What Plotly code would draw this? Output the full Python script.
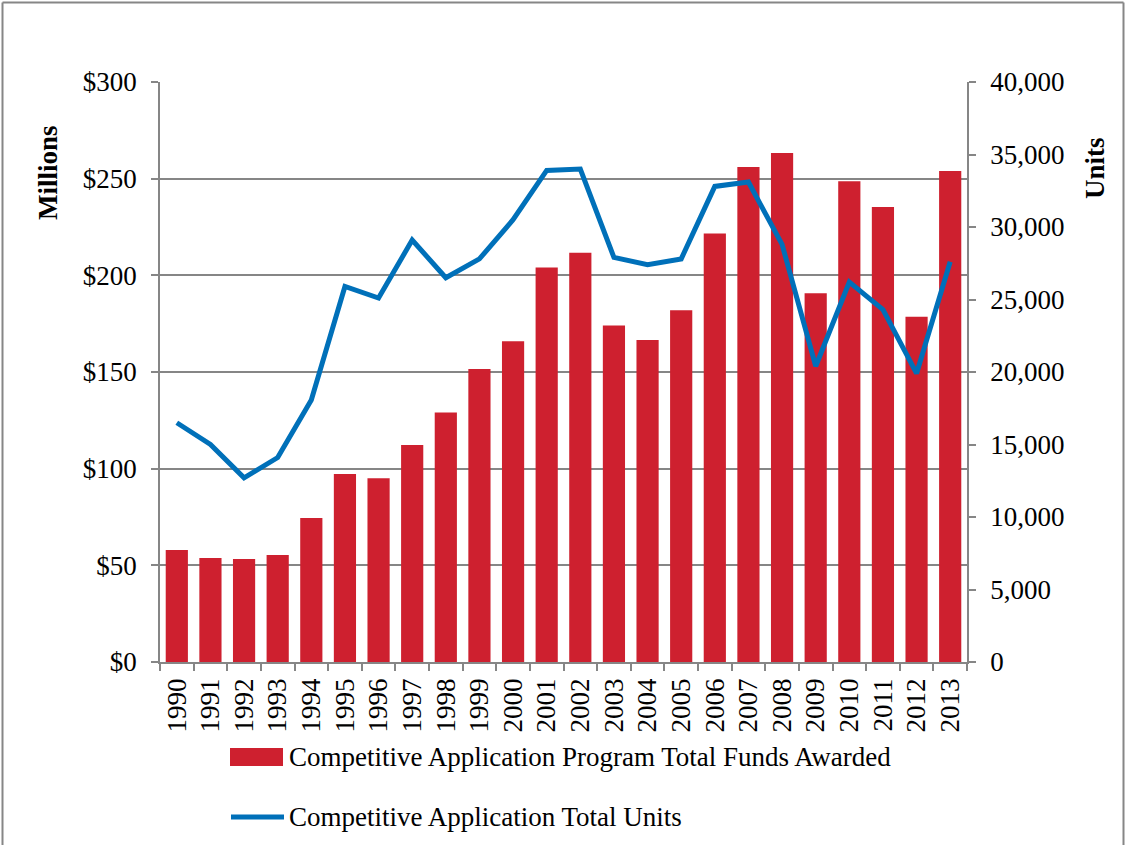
import plotly.graph_objects as go

years = [str(y) for y in range(1990, 2014)]
funds_millions = [57.9, 53.8, 53.3, 55.3, 74.5, 97.2, 95.0, 112.2, 129.1, 151.5,
                  165.9, 204.1, 211.7, 174.1, 166.6, 181.9, 221.7, 256.0, 263.3, 190.7,
                  248.6, 235.3, 178.6, 254.0]
total_units = [16500, 15000, 12700, 14100, 18070, 25900, 25100, 29100, 26500, 27800,
               30500, 33900, 34000, 27900, 27400, 27800, 32800, 33100, 28800, 20400,
               26200, 24300, 19900, 27600]

bar_name = "Competitive Application Program Total Funds Awarded"
line_name = "Competitive Application Total Units"

RED = "#CE202F"
BLUE = "#0070B9"
GRID = "#868686"
FONT = "Liberation Serif"
FS = 27

W, H = 1125, 845
L, R, T, B = 160, 158, 82, 183
PW, PH = W - L - R, H - T - B


def px(x):
    return (x - L) / PW


def py(y):
    return (H - B - y) / PH


fig = go.Figure()
fig.add_trace(go.Bar(x=years, y=funds_millions, name=bar_name, marker_color=RED,
                     marker_line_width=0, yaxis="y"))
fig.add_trace(go.Scatter(x=years, y=total_units, name=line_name, mode="lines",
                         line=dict(color=BLUE, width=5), yaxis="y2"))

fig.update_layout(
    width=W, height=H,
    margin=dict(l=L, r=R, t=T, b=B, autoexpand=False),
    paper_bgcolor="white", plot_bgcolor="white",
    showlegend=False,
    bargap=0.34,
    font=dict(family=FONT, size=FS, color="black"),
    xaxis=dict(type="category", showgrid=False, showline=True, linecolor=GRID, linewidth=1.5,
               ticks="outside", tickson="boundaries", ticklen=7, tickcolor=GRID, tickwidth=1.5,
               tickangle=-90, tickfont=dict(family=FONT, size=FS), ticklabelstandoff=4),
    yaxis=dict(range=[0, 300], dtick=50, tickprefix="$", showgrid=True, gridcolor=GRID,
               gridwidth=1.5, showline=True, linecolor=GRID, linewidth=1.5, ticks="outside",
               ticklen=7, tickcolor=GRID, tickwidth=1.5, zeroline=False,
               tickfont=dict(family=FONT, size=FS), ticklabelstandoff=9),
    yaxis2=dict(range=[0, 40000], dtick=5000, tickformat=",", overlaying="y", side="right",
                showgrid=False, showline=True, linecolor=GRID, linewidth=1.5, ticks="outside",
                ticklen=7, tickcolor=GRID, tickwidth=1.5, zeroline=False,
                tickfont=dict(family=FONT, size=FS), ticklabelstandoff=9),
)

# axis titles
fig.add_annotation(text="<b>Millions</b>", x=px(48), y=py(172), xref="paper", yref="paper",
                   xanchor="center", yanchor="middle",
                   textangle=-90, showarrow=False, font=dict(family=FONT, size=FS))
fig.add_annotation(text="<b>Units</b>", x=px(1095), y=py(168), xref="paper", yref="paper",
                   xanchor="center", yanchor="middle",
                   textangle=-90, showarrow=False, font=dict(family=FONT, size=FS))

# legend (drawn manually to mimic the wide swatches)
fig.add_shape(type="rect", xref="paper", yref="paper", x0=px(230), x1=px(283),
              y0=py(766), y1=py(748), fillcolor=RED, line_width=0)
fig.add_shape(type="line", xref="paper", yref="paper", x0=px(231), x1=px(284),
              y0=py(817), y1=py(817), line=dict(color=BLUE, width=5))
fig.add_annotation(text=bar_name, x=px(287), y=py(757), xref="paper", yref="paper",
                   xanchor="left", yanchor="middle", showarrow=False,
                   font=dict(family=FONT, size=FS))
fig.add_annotation(text=line_name, x=px(287), y=py(817), xref="paper", yref="paper",
                   xanchor="left", yanchor="middle", showarrow=False,
                   font=dict(family=FONT, size=FS))

# outer border (left, top, right)
fig.add_shape(type="line", xref="paper", yref="paper", x0=px(2.5), x1=px(2.5),
              y0=py(2.5), y1=py(850), line=dict(color=GRID, width=2))
fig.add_shape(type="line", xref="paper", yref="paper", x0=px(2.5), x1=px(1123.5),
              y0=py(2.5), y1=py(2.5), line=dict(color=GRID, width=2))
fig.add_shape(type="line", xref="paper", yref="paper", x0=px(1123.5), x1=px(1123.5),
              y0=py(2.5), y1=py(850), line=dict(color=GRID, width=2))

fig.write_html("out.html", config={"displayModeBar": False},
               post_script="document.body.style.margin='0px';document.body.style.overflow='hidden';")
